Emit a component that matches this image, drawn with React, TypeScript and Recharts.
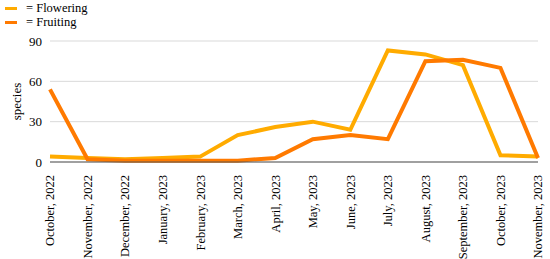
import { LineChart, Line, XAxis, YAxis, CartesianGrid } from 'recharts';

const months = [
  'October, 2022', 'November, 2022', 'December, 2022', 'January, 2023', 'February, 2023',
  'March, 2023', 'April, 2023', 'May, 2023', 'June, 2023', 'July, 2023',
  'August, 2023', 'September, 2023', 'October, 2023', 'November, 2023',
];
const flowering = [4, 3, 2, 3, 4, 20, 26, 30, 24, 83, 80, 72, 5, 4];
const fruiting = [54, 2, 1, 1, 1, 1, 3, 17, 20, 17, 75, 76, 70, 3];
const yTicks = [0, 30, 60, 90];

const data = months.map((m, i) => ({ month: m, flowering: flowering[i], fruiting: fruiting[i] }));

const FONT = 'Liberation Serif';
const FLOWER_COLOR = '#FFAB00';
const FRUIT_COLOR = '#FF7A00';

function MonthTick({ x, y, payload }: any) {
  return (
    <g transform={`translate(${x},${y})`}>
      <text transform="rotate(-90)" x={-5} dy="0.35em" textAnchor="end" fontSize={12.5} fill="#000" fontFamily={FONT}>
        {payload.value}
      </text>
    </g>
  );
}

function SpeciesLabel({ viewBox }: any) {
  const cx = 16;
  const cy = viewBox.y + viewBox.height / 2;
  return (
    <text x={cx} y={cy} transform={`rotate(-90, ${cx}, ${cy})`} textAnchor="middle" dy="0.35em" fontSize={13} fill="#000" fontFamily={FONT}>
      species
    </text>
  );
}

export default function App() {
  return (
    <div style={{ position: 'absolute', left: 0, top: 0, width: 550, height: 259, background: '#fff', fontFamily: FONT }}>
      <div style={{ position: 'absolute', left: 5, top: 1, fontSize: 12.5, lineHeight: '14px', color: '#000' }}>
        {[
          { name: 'Flowering', color: FLOWER_COLOR },
          { name: 'Fruiting', color: FRUIT_COLOR },
        ].map((it) => (
          <div key={it.name} style={{ display: 'flex', alignItems: 'center', height: 14 }}>
            <span style={{ display: 'inline-block', width: 12, height: 3, background: it.color, marginRight: 9 }} />
            <span>= {it.name}</span>
          </div>
        ))}
      </div>
      <LineChart width={550} height={259} data={data} margin={{ top: 41, right: 12, bottom: 5, left: 0 }} style={{ fontFamily: FONT }}>
        <CartesianGrid vertical={false} stroke="#d9d9d9" />
        <XAxis
          dataKey="month"
          interval={0}
          height={92}
          tickLine={false}
          axisLine={{ stroke: '#555' }}
          tick={<MonthTick />}
        />
        <YAxis
          domain={[0, 90]}
          ticks={yTicks}
          width={50}
          axisLine={false}
          tickLine={false}
          tick={{ fontSize: 13, fill: '#000', fontFamily: FONT }}
          label={<SpeciesLabel />}
        />
        <Line dataKey="flowering" stroke={FLOWER_COLOR} strokeWidth={4} dot={false} isAnimationActive={false} strokeLinejoin="miter" />
        <Line dataKey="fruiting" stroke={FRUIT_COLOR} strokeWidth={4} dot={false} isAnimationActive={false} strokeLinejoin="miter" />
      </LineChart>
    </div>
  );
}
